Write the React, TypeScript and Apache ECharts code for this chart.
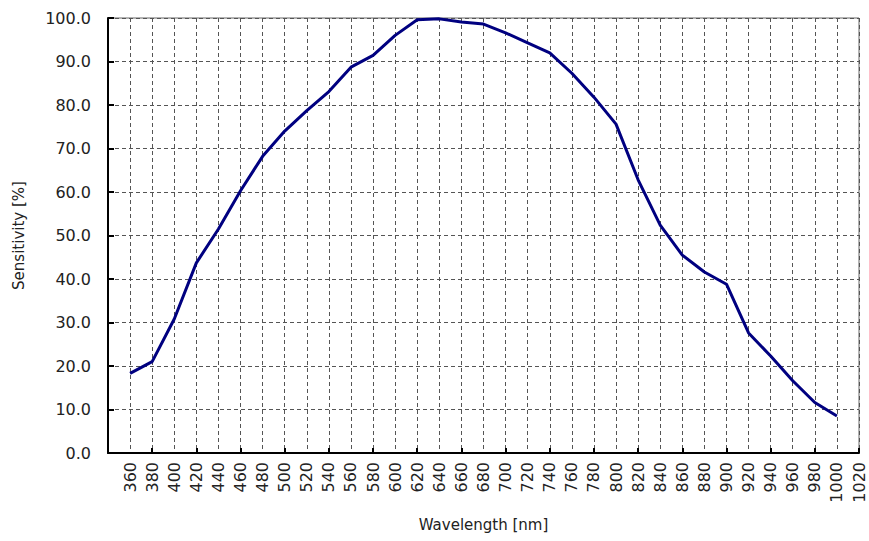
import React, { useEffect, useRef } from "react";
import * as echarts from "echarts";

const wavelengths = [360, 380, 400, 420, 440, 460, 480, 500, 520, 540, 560, 580, 600, 620, 640, 660, 680, 700, 720, 740, 760, 780, 800, 820, 840, 860, 880, 900, 920, 940, 960, 980, 1000];
const sensitivity = [18.3, 21.0, 30.8, 43.7, 51.5, 60.3, 68.2, 74.0, 78.7, 83.1, 88.7, 91.4, 96.0, 99.6, 99.8, 99.1, 98.6, 96.6, 94.3, 92.0, 87.3, 81.8, 75.6, 62.8, 52.4, 45.5, 41.6, 38.8, 27.6, 22.3, 16.6, 11.6, 8.5];
const xMin = 340;
const xMax = 1020;
const xStep = 20;
const xTickStep = 40;
const yMin = 0;
const yMax = 100;
const yStep = 10;
const xName = "Wavelength [nm]";
const yName = "Sensitivity [%]";

const FONT = "DejaVu Sans";

export default function App() {
  const ref = useRef<HTMLDivElement>(null);
  useEffect(() => {
    document.body.style.margin = "0";
    if (!ref.current) return;
    const chart = echarts.init(ref.current, null, { renderer: "svg" });
    const points = wavelengths.map((w, i) => [w, sensitivity[i]]);
    chart.setOption({
      animation: false,
      backgroundColor: "#ffffff",
      grid: {
        left: 108,
        top: 18,
        right: 10,
        bottom: 88,
        containLabel: false,
        show: true,
        borderColor: "#666666",
        borderWidth: 1,
        backgroundColor: "transparent",
      },
      xAxis: [
        {
          type: "value",
          min: xMin,
          max: xMax,
          interval: xStep,
          position: "bottom",
          name: xName,
          nameLocation: "middle",
          nameGap: 64,
          nameTextStyle: { fontFamily: FONT, fontSize: 15, color: "#222" },
          axisLine: { show: true, onZero: false, lineStyle: { color: "#000", width: 2 } },
          axisTick: { show: false },
          axisLabel: {
            rotate: 90,
            margin: 9,
            fontFamily: FONT,
            fontSize: 16,
            color: "#222",
            formatter: (v: number) => (v === xMin ? "" : String(v)),
          },
          splitLine: { show: true, lineStyle: { color: "#555", type: [4, 3], width: 1 } },
        },
        {
          type: "value",
          min: xMin,
          max: xMax,
          interval: xTickStep,
          position: "bottom",
          axisLine: { show: false },
          axisLabel: { show: false },
          splitLine: { show: false },
          axisTick: { show: true, inside: true, length: 5, lineStyle: { color: "#000", width: 2 } },
        },
      ],
      yAxis: {
        type: "value",
        min: yMin,
        max: yMax,
        interval: yStep,
        name: yName,
        nameLocation: "middle",
        nameGap: 82,
        nameRotate: 90,
        nameTextStyle: { fontFamily: FONT, fontSize: 15, color: "#222" },
        axisLine: { show: true, lineStyle: { color: "#000", width: 2 } },
        axisTick: { show: true, inside: true, length: 6, lineStyle: { color: "#000", width: 2 } },
        axisLabel: {
          margin: 17,
          fontFamily: FONT,
          fontSize: 16,
          color: "#222",
          formatter: (v: number) => v.toFixed(1),
        },
        splitLine: { show: true, lineStyle: { color: "#555", type: [4, 3], width: 1 } },
      },
      series: [
        {
          type: "line",
          xAxisIndex: 0,
          data: points,
          showSymbol: false,
          symbol: "none",
          lineStyle: { color: "#000080", width: 3 },
        },
      ],
    });
    return () => chart.dispose();
  }, []);
  return <div ref={ref} style={{ position: "fixed", left: 0, top: 0, width: 869, height: 541 }} />;
}
